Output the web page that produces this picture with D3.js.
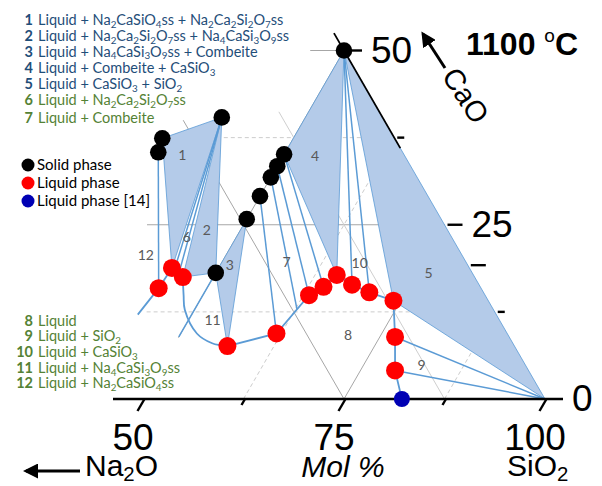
<!DOCTYPE html>
<html>
<head>
<meta charset="utf-8">
<script src="https://cdn.jsdelivr.net/npm/d3@7"></script>
<style>
	body { margin: 0; background: #fff; }
	svg { display: block; }
</style>
</head>
<body>
<div id="root"></div>
<script>
// ternary points: [name, SiO2 mol%, CaO mol%]  (Na2O = rest)
const solidPhase = [
	['CS', 50, 50],
	['NC2S2', 39.6, 40.4],
	['N2CSa', 33.7, 37.4],
	['N2CSb', 34.2, 35.4],
	['comb1', 50, 35.1],
	['comb2', 50, 33.4],
	['comb3', 50, 31.8],
	['comb4', 50, 29.1],
	['comb5', 50, 25.8],
	['N4CS3', 50, 18.1],
]
const liquidPhase = [
	['L1', 44.0, 15.9],
	['L2', 44.2, 18.8],
	['L3', 46.2, 17.5],
	['L4', 56.7, 7.6],
	['L5', 61.9, 9.4],
	['L6', 63.2, 14.9],
	['L7', 64.4, 16.1],
	['L8', 65.2, 17.8],
	['L9', 67.8, 16.4],
	['L10', 70.5, 15.3],
	['L11', 74.1, 14.1],
	['L12', 76.9, 8.9],
	['L13', 79.3, 4.1],
]
const liquidRef = [['L14', 82.2, 0]]
const otherPoints = [
	['S', 100, 0],
	['x1', 44.8, 17.8],
	['x2', 45.6, 17.45],
	['x3', 62.7, 12.9],
	['x4', 50, 8.9],
	['x5', 43.3, 12.1],
	['c1', 47.6, 14.9],
	['c2', 48.8, 12.8],
	['c3', 52.0, 9.4],
	['c4', 54.6, 8.0],
]

const threePhase = [
	['N2CSa', 'NC2S2', 'L2'],
	['NC2S2', 'N4CS3', 'L3'],
	['comb5', 'N4CS3', 'L4'],
	['CS', 'comb1', 'L8'],
	['CS', 'S', 'L11'],
]
const tieLines = [
	['N2CSb', 'L1'], ['NC2S2', 'x1'], ['NC2S2', 'x2'], ['N4CS3', 'x4'],
	['comb4', 'L5'], ['comb3', 'x3'], ['comb2', 'L6'], ['comb1', 'L7'],
	['CS', 'L9'], ['CS', 'L10'], ['S', 'L12'], ['S', 'L13'],
]
const liquidusStraight = [
	['x5', 'L1', 'L2', 'L3'],
	['L4', 'L5', 'L6', 'L7', 'L8', 'L9', 'L10', 'L11', 'L12', 'L13', 'L14'],
]
const liquidusCurve = ['L3', 'c1', 'c2', 'c3', 'c4', 'L4']

// region number, SiO2, CaO
const regionLabels = [
	['1', 37.4, 35.0], ['2', 45.8, 24.3], ['3', 51.2, 19.2], ['4', 54.0, 34.8],
	['5', 76.5, 18.05], ['6', 43.8, 23.3], ['7', 58.0, 19.7], ['8', 70.9, 9.2],
	['9', 82.2, 4.9], ['10', 67.2, 19.5], ['11', 53.0, 11.3], ['12', 40.0, 20.7],
]

const gridMajor = [
	[[38, 25], [75, 25]],
	[[45.8, 50], [50, 50]],
	[[50, 8.8], [50, 50]],
	[[75, 0], [75, 25]],
	[[35, 40], [75, 0]],
]
const gridLight = [
	[[46.3, 41.2], [87.5, 0]],
]
const gridMinor = [
	[[44.2, 12.5], [87.5, 12.5]],
	[[41.3, 37.5], [62.5, 37.5]],
	[[62.5, 0], [62.5, 37.5]],
	[[87.5, 0], [87.5, 12.5]],
]

const sioTicks = [50, 62.5, 75, 87.5, 100]
const sioLabels = [50, 75, 100]
const caoTicks = [12.5, 19.2, 25, 37.5, 50]
const caoMajor = [19.2, 25, 50]
const caoLabels = [0, 25, 50]

const legendTop = [
	['1', 'Liquid + Na_2CaSiO_4ss + Na_2Ca_2Si_2O_7ss'],
	['2', 'Liquid + Na_2Ca_2Si_2O_7ss + Na_4CaSi_3O_9ss'],
	['3', 'Liquid + Na_4CaSi_3O_9ss + Combeite'],
	['4', 'Liquid + Combeite + CaSiO_3'],
	['5', 'Liquid + CaSiO_3 + SiO_2'],
	['6', 'Liquid + Na_2Ca_2Si_2O_7ss'],
	['7', 'Liquid + Combeite'],
]
const legendBottom = [
	['8', 'Liquid'],
	['9', 'Liquid + SiO_2'],
	['10', 'Liquid + CaSiO_3'],
	['11', 'Liquid + Na_4CaSi_3O_9ss'],
	['12', 'Liquid + Na_2CaSiO_4ss'],
]
const legendTopY = [25, 41, 56.5, 73, 89, 105, 122.5]
const legendBottomY = [326, 341, 357, 373, 388]
const dotLegend = [
	['Solid phase', '#000'],
	['Liquid phase', '#ff0000'],
	['Liquid phase [14]', '#0000b4'],
]

const C = {
	width: 602,
	height: 486,
	baseY: 399,
	tieColor: '#5b9bd5',
	fill: '#b4cbe9',
	blueText: '#1f4e79',
	greenText: '#548235',
	legendSize: 14.5,
	axisFont: '"Liberation Sans", Arial, sans-serif',
	textFont: 'Lato, "Open Sans", sans-serif',
}

const xS = d3.scaleLinear().domain([50, 100]).range([143, 545])
const yS = d3.scaleLinear().domain([0, 50]).range([C.baseY, 50.5])
const pos = (s, c) => [xS(s + c / 2), yS(c)]

const nodes = {}
solidPhase.concat(liquidPhase, liquidRef, otherPoints)
	.forEach(d => nodes[d[0]] = pos(d[1], d[2]))

const svg = d3.select('#root').append('svg')
	.attr('width', C.width)
	.attr('height', C.height)
	.attr('viewBox', `0 0 ${C.width} ${C.height}`)

const defs = svg.append('defs')
defs.append('marker')
	.attr('id', 'arrow')
	.attr('viewBox', '0 0 10 10')
	.attr('refX', 8).attr('refY', 5)
	.attr('markerWidth', 5).attr('markerHeight', 5)
	.attr('markerUnits', 'strokeWidth')
	.attr('orient', 'auto')
	.append('path')
	.attr('d', 'M0,0 L10,5 L0,10 z')
	.attr('fill', '#000')

const line = d3.line()

//grid
const grid = svg.append('g').attr('id', 'grid')
grid.selectAll('.major').data(gridMajor).enter()
	.append('path')
	.attr('d', d => line(d.map(p => pos(p[0], p[1]))))
	.attr('stroke', '#a6a6a6').attr('stroke-width', 1).attr('fill', 'none')
grid.selectAll('.light').data(gridLight).enter()
	.append('path')
	.attr('d', d => line(d.map(p => pos(p[0], p[1]))))
	.attr('stroke', '#cfcfcf').attr('stroke-width', 1).attr('fill', 'none')
grid.selectAll('.minor').data(gridMinor).enter()
	.append('path')
	.attr('d', d => line(d.map(p => pos(p[0], p[1]))))
	.attr('stroke', '#cccccc').attr('stroke-width', 1)
	.attr('stroke-dasharray', '4,3').attr('fill', 'none')

//three phase triangles
svg.append('g').selectAll('path').data(threePhase).enter()
	.append('path')
	.attr('d', d => line(d.map(k => nodes[k])) + 'Z')
	.attr('fill', C.fill)
	.attr('stroke', C.tieColor)
	.attr('stroke-width', 0.8)

//right edge (CaO axis) near the apex
svg.append('path')
	.attr('d', line([pos(47.5, 52.5), pos(64, 36)]))
	.attr('stroke', '#000').attr('stroke-width', 1.8)

//tie lines
svg.append('g').selectAll('path').data(tieLines).enter()
	.append('path')
	.attr('d', d => line(d.map(k => nodes[k])))
	.attr('stroke', C.tieColor).attr('stroke-width', 1.5).attr('fill', 'none')

//liquidus
svg.append('g').selectAll('path').data(liquidusStraight).enter()
	.append('path')
	.attr('d', d => line(d.map(k => nodes[k])))
	.attr('stroke', C.tieColor).attr('stroke-width', 1.8).attr('fill', 'none')
svg.append('path')
	.attr('d', d3.line().curve(d3.curveCatmullRom)(liquidusCurve.map(k => nodes[k])))
	.attr('stroke', C.tieColor).attr('stroke-width', 1.8).attr('fill', 'none')

//region numbers
svg.append('g').selectAll('text').data(regionLabels).enter()
	.append('text')
	.attr('x', d => pos(d[1], d[2])[0])
	.attr('y', d => pos(d[1], d[2])[1] + 5)
	.attr('text-anchor', 'middle')
	.attr('font-family', C.textFont)
	.attr('font-size', 14)
	.attr('fill', '#595959')
	.text(d => d[0])

//SiO2 axis
const axis = svg.append('g').attr('id', 'axis')
axis.append('line')
	.attr('x1', 113).attr('x2', 563)
	.attr('y1', C.baseY).attr('y2', C.baseY)
	.attr('stroke', '#000').attr('stroke-width', 2.6)
axis.selectAll('.tickS').data(sioTicks).enter()
	.append('line')
	.attr('x1', d => xS(d) + 1.5)
	.attr('y1', C.baseY)
	.attr('x2', d => xS(d) + 1.5 - (d % 25 ? 3.5 : 7))
	.attr('y2', d => C.baseY + (d % 25 ? 6 : 12))
	.attr('stroke', '#000').attr('stroke-width', 2.4)
axis.selectAll('.labS').data(sioLabels).enter()
	.append('text')
	.attr('x', d => xS(d) - 10)
	.attr('y', 450)
	.attr('text-anchor', 'middle')
	.attr('font-family', C.axisFont)
	.attr('font-size', 37)
	.text(d => d)

//CaO axis ticks
axis.selectAll('.tickC').data(caoTicks).enter()
	.append('line')
	.attr('x1', d => xS(100 - d / 2) + 3)
	.attr('x2', d => xS(100 - d / 2) + (caoMajor.includes(d) ? 18 : 10))
	.attr('y1', d => yS(d))
	.attr('y2', d => yS(d))
	.attr('stroke', '#000').attr('stroke-width', 2.4)
axis.selectAll('.labC').data(caoLabels).enter()
	.append('text')
	.attr('x', d => xS(100 - d / 2) + 27)
	.attr('y', d => yS(d) + 12)
	.attr('font-family', C.axisFont)
	.attr('font-size', 37)
	.text(d => d)

//dots
const dots = svg.append('g').attr('id', 'dots')
dots.selectAll('.solid').data(solidPhase).enter()
	.append('circle')
	.attr('cx', d => nodes[d[0]][0]).attr('cy', d => nodes[d[0]][1])
	.attr('r', 8.3).attr('fill', '#000')
dots.selectAll('.liquid').data(liquidPhase).enter()
	.append('circle')
	.attr('cx', d => nodes[d[0]][0]).attr('cy', d => nodes[d[0]][1])
	.attr('r', 9).attr('fill', '#ff0000')
dots.selectAll('.ref').data(liquidRef).enter()
	.append('circle')
	.attr('cx', d => nodes[d[0]][0]).attr('cy', d => nodes[d[0]][1])
	.attr('r', 8).attr('fill', '#0000b4')

//axis titles
svg.append('line')
	.attr('x1', 445).attr('y1', 68).attr('x2', 423).attr('y2', 34)
	.attr('stroke', '#000').attr('stroke-width', 3)
	.attr('marker-end', 'url(#arrow)')
svg.append('text')
	.attr('transform', 'translate(441,76) rotate(57)')
	.attr('font-family', C.axisFont)
	.attr('font-size', 29)
	.text('CaO')

const temp = svg.append('text')
	.attr('x', 466).attr('y', 55)
	.attr('font-family', C.axisFont)
	.attr('font-size', 32)
	.attr('font-weight', 'bold')
temp.append('tspan').text('1100 ')
temp.append('tspan').attr('dy', -13).attr('font-size', 19).attr('font-weight', 'normal').text('o')
temp.append('tspan').attr('dy', 13).text('C')

svg.append('line')
	.attr('x1', 80).attr('y1', 471).attr('x2', 26).attr('y2', 471)
	.attr('stroke', '#000').attr('stroke-width', 3)
	.attr('marker-end', 'url(#arrow)')
richText(svg.append('text')
	.attr('x', 85).attr('y', 476)
	.attr('font-family', C.axisFont)
	.attr('font-size', 30), 'Na_2O', 30, 0.16)
svg.append('text')
	.attr('x', 343).attr('y', 477)
	.attr('text-anchor', 'middle')
	.attr('font-family', C.axisFont)
	.attr('font-size', 30)
	.attr('font-style', 'italic')
	.text('Mol %')
richText(svg.append('text')
	.attr('x', 507).attr('y', 476)
	.attr('font-family', C.axisFont)
	.attr('font-size', 30), 'SiO_2', 30, 0.16)

//legends
drawLegend(legendTop, legendTopY)
drawLegend(legendBottom, legendBottomY)

const dotLeg = svg.append('g').selectAll('g').data(dotLegend).enter()
	.append('g')
	.attr('transform', (d, i) => `translate(28,${165 + i * 18})`)
dotLeg.append('circle').attr('r', 6.5).attr('fill', d => d[1])
dotLeg.append('text')
	.attr('x', 9).attr('y', 5)
	.attr('font-family', C.textFont)
	.attr('font-size', 15)
	.text(d => d[0])


/* helper functions */
function drawLegend (items, ys) {
	items.forEach((d, i) => {
		const num = +d[0],
			color = num <= 5 ? C.blueText : C.greenText
		svg.append('text')
			.attr('x', 33).attr('y', ys[i])
			.attr('text-anchor', 'end')
			.attr('font-family', C.textFont)
			.attr('font-size', C.legendSize)
			.attr('font-weight', 'bold')
			.attr('fill', color)
			.text(d[0])
		richText(svg.append('text')
			.attr('x', 38).attr('y', ys[i])
			.attr('font-family', C.textFont)
			.attr('font-size', C.legendSize)
			.attr('fill', color), d[1], C.legendSize, 0.18)
	})
}

function richText (textSel, str, size, shift) {
	//"_n" => subscript n
	const parts = str.split(/(_[0-9]+)/),
		off = size * shift
	let sub = false
	parts.forEach(p => {
		if (!p)
			return
		if (p[0] === '_') {
			textSel.append('tspan')
				.attr('dy', off)
				.attr('font-size', size * 0.68)
				.text(p.slice(1))
			sub = true
		} else {
			textSel.append('tspan')
				.attr('dy', sub ? -off : 0)
				.text(p)
			sub = false
		}
	})
	return textSel
}
</script>
</body>
</html>
